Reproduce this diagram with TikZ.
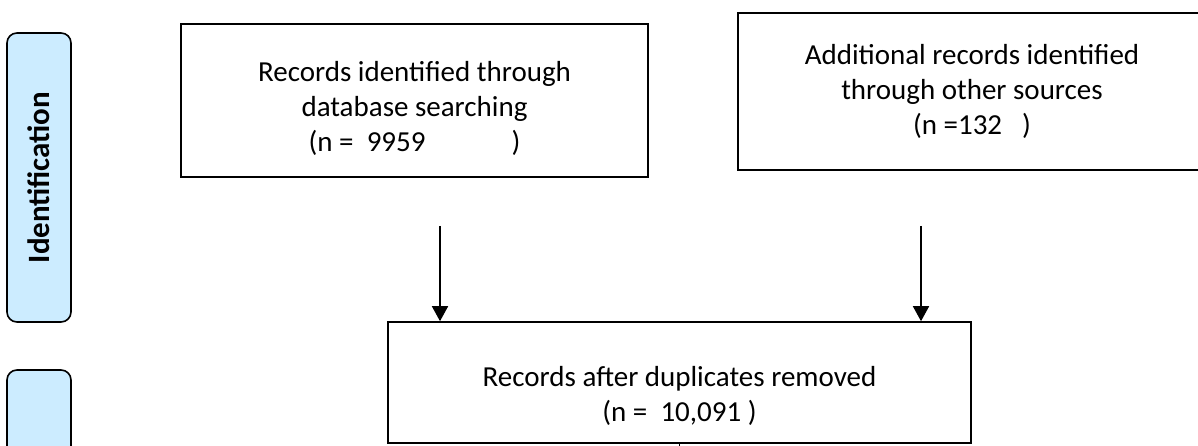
\documentclass[tikz,border=0pt]{standalone}
\usepackage{fontspec}
\setmainfont{Carlito}
\usetikzlibrary{arrows.meta}
\definecolor{bandblue}{HTML}{CCECFF}
\tikzset{recbox/.style={draw=black,line width=1.6pt,rectangle,align=center,
                        font=\fontsize{29}{35}\selectfont},
         band/.style={draw=black,line width=1.6pt,fill=bandblue,rounded corners=10pt,
                      rotate=90,minimum width=289pt,minimum height=64pt,
                      font=\bfseries\fontsize{31}{37}\selectfont}}

\begin{document}
\begin{tikzpicture}[>={Triangle[length=15pt,width=16pt]},x=1pt,y=-1pt,
                    line width=1.6pt]
  \clip (0,0) rectangle (1198,446);

  % stage bands on the left
  \node[band] (ident)  at (39,177.5) {Identification};
  \node[band] (screen) at (39,514.5) {};

  % record boxes
  \node[recbox,minimum width=467pt,minimum height=153pt] (db) at (414.5,100.5)
       {\rule{0pt}{36pt}Records identified through\\ database searching\\
        (n =\ \ 9959\hspace{86pt})};
  \node[recbox,minimum width=468pt,minimum height=157pt] (other) at (972,91.5)
       {Additional records identified\\ through other sources\\ (n =132\hspace{20pt})};
  \node[recbox,minimum width=583pt,minimum height=121pt] (dup) at (679.5,382.5)
       {\rule{0pt}{48pt}Records after duplicates removed\\ (n =\ \ 10,091 )};

  \coordinate (srcA) at (440,226);
  \coordinate (srcB) at (921,226);
  \coordinate (cont) at (679.5,460);

  \draw[->] (srcA) -- (srcA |- dup.north);
  \draw[->] (srcB) -- (srcB |- dup.north);
  \draw     (dup.south) -- (cont);
\end{tikzpicture}
\end{document}
